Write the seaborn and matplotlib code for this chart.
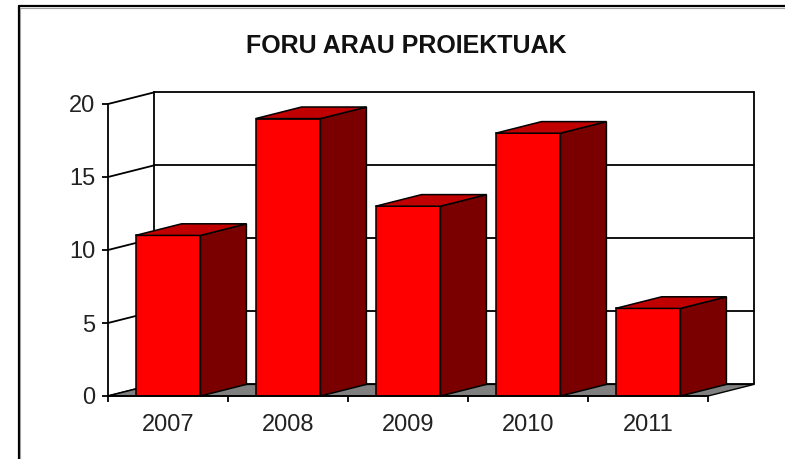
import numpy as np
import pandas as pd
import matplotlib
matplotlib.use("Agg")
import matplotlib.pyplot as plt
from matplotlib.patches import Polygon
from matplotlib.lines import Line2D
import seaborn as sns

# data
years = ["2007", "2008", "2009", "2010", "2011"]
projects = [11, 19, 13, 18, 6]
title = "FORU ARAU PROIEKTUAK"
y_ticks = [0, 5, 10, 15, 20]

sns.set_style("white")
plt.rcParams['font.family'] = ['Liberation Sans', 'DejaVu Sans']

W, H = 785, 459
fig = plt.figure(figsize=(W / 100, H / 100), dpi=100)

# front plot area in pixels: x 108..708, y 104..396
ax = fig.add_axes([108 / W, (H - 396) / H, 600 / W, 292 / H])

df = pd.DataFrame({"year": years, "n": projects})
bar_w = 0.54
sns.barplot(data=df, x="year", y="n", color="#ff0000", saturation=1,
            width=bar_w, edgecolor="black", linewidth=1.1, ax=ax, zorder=5)

ax.set_xlim(-0.5, len(years) - 0.5)
ax.set_ylim(0, 20)

# depth offset (pixels -> data units)
dx = 46 / 120
dy = 11.6 / 14.6
x0, x1 = -0.5, len(years) - 0.5
top = y_ticks[-1]
lk = dict(color="black", lw=1.3, clip_on=False, zorder=1)

# back wall gridlines and edges
for t in y_ticks:
    ax.plot([x0 + dx, x1 + dx], [t + dy, t + dy], **lk)
    ax.plot([x0, x0 + dx], [t, t + dy], **lk)
ax.plot([x0 + dx, x0 + dx], [dy, top + dy], **lk)
ax.plot([x1 + dx, x1 + dx], [dy, top + dy], **lk)

# floor
floor = Polygon([(x0, 0), (x1, 0), (x1 + dx, dy), (x0 + dx, dy)],
                closed=True, facecolor="#808080", edgecolor="black",
                lw=1.0, clip_on=False, zorder=2)
ax.add_patch(floor)

# side and top faces of bars
for i, v in enumerate(projects):
    l, r = i - bar_w / 2, i + bar_w / 2
    side = Polygon([(r, 0), (r + dx, dy), (r + dx, v + dy), (r, v)],
                   closed=True, facecolor="#7a0000", edgecolor="black",
                   lw=1.1, clip_on=False, zorder=6)
    cap = Polygon([(l, v), (r, v), (r + dx, v + dy), (l + dx, v + dy)],
                  closed=True, facecolor="#c00000", edgecolor="black",
                  lw=1.1, clip_on=False, zorder=6)
    ax.add_patch(side)
    ax.add_patch(cap)

# axes styling
for s in ["top", "right"]:
    ax.spines[s].set_visible(False)
for s in ["left", "bottom"]:
    ax.spines[s].set_linewidth(1.3)
    ax.spines[s].set_color("black")
    ax.spines[s].set_zorder(7)

ax.set_yticks(y_ticks)
ax.set_xticks(range(len(years)))
ax.set_xticks(np.arange(-0.5, len(years)), minor=True)
ax.tick_params(axis="y", direction="out", length=4, width=1.3, color="black",
               pad=5, labelsize=17, labelcolor="#222222", left=True)
ax.tick_params(axis="x", which="major", length=0, pad=13, labelsize=17,
               labelcolor="#222222")
ax.tick_params(axis="x", which="minor", direction="out", length=4, width=1.3,
               color="black", bottom=True)
ax.set_xlabel("")
ax.set_ylabel("")
ax.grid(False)
ax.patch.set_alpha(0)

fig.text(406 / W, 1 - 46 / H, title, ha="center", va="center",
         fontsize=18, fontweight="bold", color="#111111")

# outer frame (top and left edges only)
fig.add_artist(Line2D([18.5 / W, 18.5 / W], [0, 1 - 6 / H], color="black", lw=1.6))
fig.add_artist(Line2D([18.5 / W, 1], [1 - 6 / H, 1 - 6 / H], color="black", lw=1.6))
fig.add_artist(Line2D([20 / W, 20 / W], [0, 1 - 7.5 / H], color="#a0a0a0", lw=0.8))
fig.add_artist(Line2D([20 / W, 1], [1 - 7.5 / H, 1 - 7.5 / H], color="#a0a0a0", lw=0.8))

fig.savefig("out.png", dpi=100)
